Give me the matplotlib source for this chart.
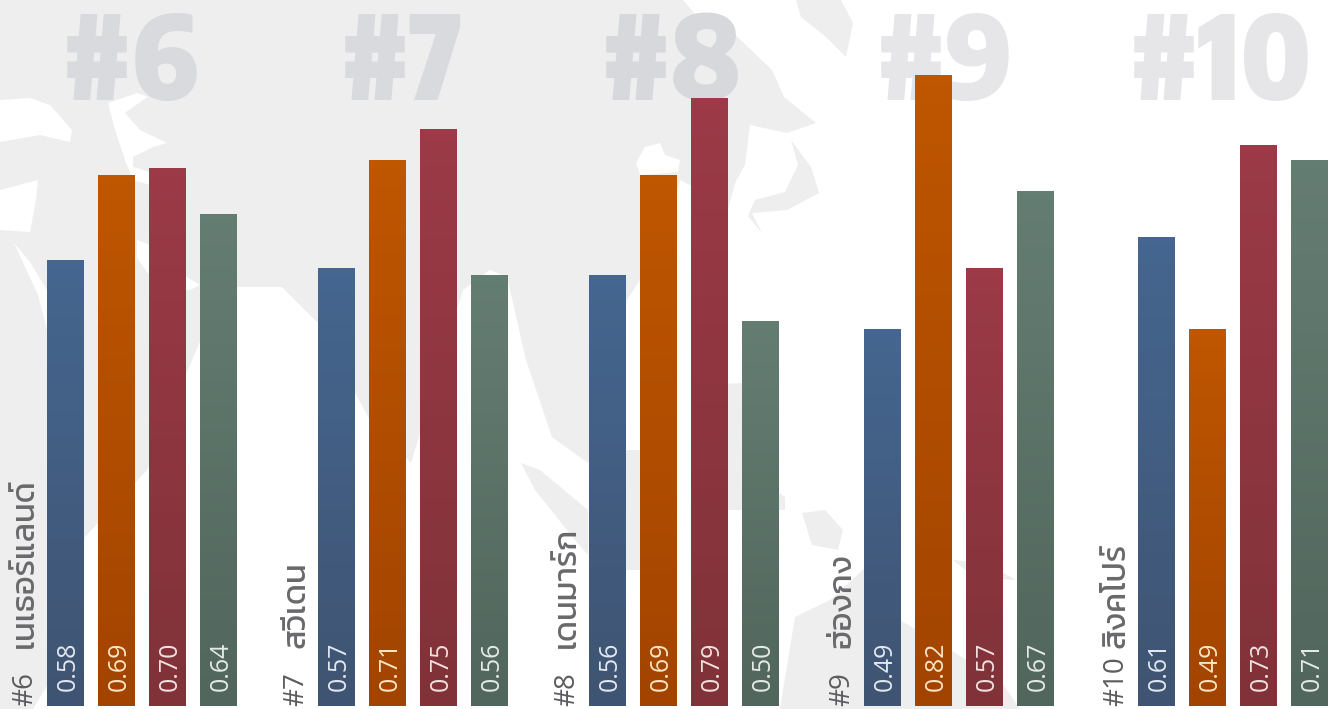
import numpy as np
import matplotlib
matplotlib.use("Agg")
import matplotlib.pyplot as plt
from matplotlib.colors import LinearSegmentedColormap
from matplotlib.patches import Polygon

# chart data
ranks = ["#6", "#7", "#8", "#9", "#10"]
countries = ["เนเธอร์แลนด์", "สวีเดน", "เดนมาร์ก", "ฮ่องกง", "สิงคโปร์"]
blue_vals = [0.58, 0.57, 0.56, 0.49, 0.61]
orange_vals = [0.69, 0.71, 0.69, 0.82, 0.49]
red_vals = [0.70, 0.75, 0.79, 0.57, 0.73]
green_vals = [0.64, 0.56, 0.50, 0.67, 0.71]

# layout, in pixels of the 1334x709 canvas
W, H = 1334, 709
BASE_Y = 706
PX_PER_UNIT = 769
group_x = [47, 318, 589, 864, 1138]
BAR_W = 37
BAR_STEP = 50.9
mark_colors = ["#d9dadd", "#d9dadd", "#d7d8dc", "#e6e6e8", "#e6e6e8"]
mark_x = [131, 402, 671, 945, 1221]

top_cols = ["#456690", "#bf5600", "#9c3a48", "#647d72"]
bottom_cols = ["#3f5472", "#a24400", "#803238", "#51665c"]
label_cols = ["#e4e8ef", "#fbe6c4", "#f3e2e2", "#e6ebe8"]

# faint world map behind everything
LAND = "#eeeeef"
land = [
    [(0, 0), (683, 0), (695, 14), (727, 27), (772, 70), (784, 97), (816, 123), (787, 133),
     (750, 125), (745, 165), (735, 183), (727, 213), (700, 190), (680, 180), (675, 200),
     (660, 230), (640, 280), (627, 300), (610, 380), (588, 463), (552, 437), (526, 360),
     (507, 277), (490, 270), (463, 290), (450, 330), (430, 400), (411, 463), (368, 417),
     (318, 323), (282, 287), (237, 287), (205, 330), (190, 365), (147, 470), (85, 537),
     (70, 600), (47, 686), (33, 709), (0, 709)],
    [(521, 463), (540, 470), (588, 510), (588, 555), (575, 540), (535, 490)],
    [(625, 450), (640, 450), (640, 570), (625, 570)],
    [(700, 385), (742, 383), (742, 470), (785, 497), (785, 510), (728, 510), (700, 460)],
    [(802, 513), (825, 510), (843, 530), (838, 550), (812, 545)],
    [(780, 709), (795, 617), (830, 600), (866, 567), (900, 620), (1000, 680), (1020, 709)],
    [(953, 560), (973, 562), (1002, 572), (1016, 580), (975, 578)],
    [(791, 140), (811, 167), (819, 193), (787, 210), (752, 213), (762, 233), (748, 216),
     (755, 200), (785, 192), (798, 165)],
    [(796, 0), (841, 0), (853, 23), (846, 57), (826, 37), (801, 17)],
]
seas = [
    [(0, 100), (30, 98), (50, 105), (72, 130), (70, 142), (40, 135), (0, 142)],
    [(108, 103), (137, 93), (148, 97), (133, 107), (125, 113), (140, 130), (167, 143),
     (153, 147), (133, 157), (133, 167), (153, 173), (150, 185), (133, 180), (125, 160),
     (115, 130)],
    [(0, 190), (38, 180), (36, 200), (30, 232), (0, 230)],
    [(14, 243), (30, 262), (47, 290), (47, 330), (38, 295)],
    [(137, 240), (150, 245), (187, 277), (200, 285), (190, 290), (160, 290), (137, 258)],
    [(636, 163), (645, 147), (660, 143), (665, 155), (680, 160), (678, 172), (640, 175)],
]

fig = plt.figure(figsize=(W / 100, H / 100), dpi=100)
bg = fig.add_axes([0, 0, 1, 1])
bg.set_xlim(0, W)
bg.set_ylim(H, 0)
bg.axis("off")
for poly in land:
    bg.add_patch(Polygon(poly, closed=True, fc=LAND, ec="none"))
for poly in seas:
    bg.add_patch(Polygon(poly, closed=True, fc="white", ec="none"))

# big rank numbers at the top
for r, mx, c in zip(ranks, mark_x, mark_colors):
    bg.text(mx, 100, r, fontsize=84, family="Encode Sans Condensed", fontweight="black",
            color=c, ha="center", va="baseline")

# bars, y axis is the value itself
ax = fig.add_axes([0, 0, 1, 1])
ax.patch.set_alpha(0)
ax.axis("off")

series = [blue_vals, orange_vals, red_vals, green_vals]
for s, vals in enumerate(series):
    cmap = LinearSegmentedColormap.from_list("bar", [bottom_cols[s], top_cols[s]])
    xs = [g + s * BAR_STEP for g in group_x]
    bars = ax.bar(xs, vals, width=BAR_W, align="edge", color="none", edgecolor="none")
    for b, v, x in zip(bars, vals, xs):
        # vertical fade inside each bar
        im = ax.imshow(np.linspace(1, 0, 64).reshape(-1, 1), cmap=cmap, aspect="auto",
                       extent=(x, x + BAR_W, 0, v), zorder=2)
        im.set_clip_path(b)
        ax.text(x + 28, 0.02, f"{v:.2f}", rotation=90, rotation_mode="anchor", ha="left",
                va="baseline", fontsize=18, family="Open Sans",
                color=label_cols[s], zorder=3)

# rank and country name, rotated next to each group
for g, r, name in zip(group_x, ranks, countries):
    ax.text(g - 15, 0.0, r, rotation=90, rotation_mode="anchor", ha="left", va="baseline",
            fontsize=20, family="Open Sans", fontweight="medium", color="#5c5c5e", zorder=3)
    ax.text(g - 14, 0.075, name, rotation=90, rotation_mode="anchor", ha="left", va="baseline",
            fontsize=23.5, family="Kanit", color="#69696b", zorder=3)

ax.set_xlim(0, W)
ax.set_ylim(-(H - BASE_Y) / PX_PER_UNIT, BASE_Y / PX_PER_UNIT)

fig.savefig("out.png", dpi=100)
